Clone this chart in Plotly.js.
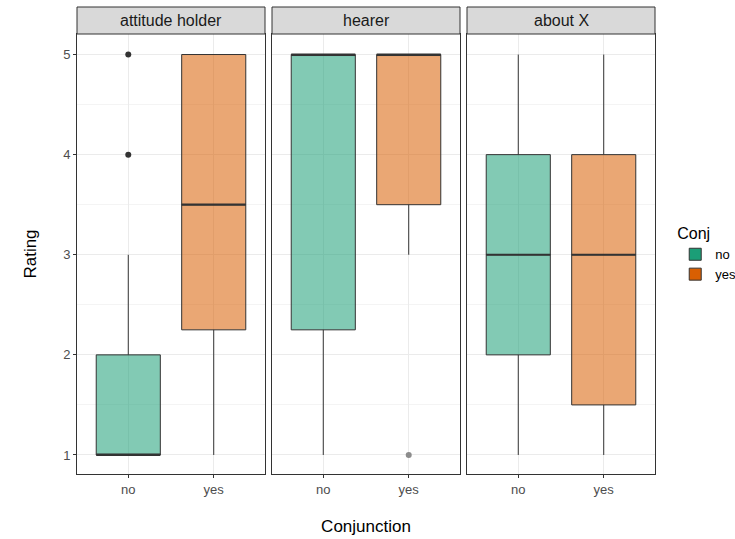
<!DOCTYPE html>
<html>
<head>
<meta charset="utf-8">
<script src="https://cdn.plot.ly/plotly-3.0.1.min.js"></script>
<style>html,body{margin:0;padding:0;background:#fff;}#plot{width:735px;height:539px;}</style>
</head>
<body>
<div id="plot"></div>
<script>
// Facets and categories
const facets = ["attitude holder", "hearer", "about X"];
const conjLevels = ["no", "yes"];
// Box statistics per facet, order [no, yes]
const lowerFence = [[1, 1], [1, 3], [1, 1]];
const q1Values   = [[1, 2.25], [2.25, 3.5], [2, 1.5]];
const medians    = [[1, 3.5], [5, 5], [3, 3]];
const q3Values   = [[2, 5], [5, 5], [4, 4]];
const upperFence = [[3, 5], [5, 5], [5, 5]];
// Outliers per facet, order [no, yes]
const outliers   = [[[4, 5], []], [[], [1]], [[], []]];
const outlierColors = [["#333333", "#333333"], ["#333333", "#8c8c8c"], ["#333333", "#333333"]];

const fills = ["rgba(27,158,119,0.55)", "rgba(217,95,2,0.55)"];
const keyFills = ["#1b9e77", "#d95f02"];

const traces = [];
facets.forEach((f, i) => {
  const xa = i === 0 ? "x" : "x" + (i + 1);
  const ya = i === 0 ? "y" : "y" + (i + 1);
  conjLevels.forEach((c, j) => {
    traces.push({
      type: "box", xaxis: xa, yaxis: ya,
      x: [c],
      lowerfence: [lowerFence[i][j]], q1: [q1Values[i][j]], median: [medians[i][j]],
      q3: [q3Values[i][j]], upperfence: [upperFence[i][j]],
      fillcolor: fills[j], line: {color: "#333333", width: 1},
      width: 0.75, whiskerwidth: 0, showlegend: false, hoverinfo: "skip"
    });
    // thicker median line, drawn as a degenerate box at the median value
    const m = medians[i][j];
    traces.push({
      type: "box", xaxis: xa, yaxis: ya,
      x: [c],
      lowerfence: [m], q1: [m], median: [m], q3: [m], upperfence: [m],
      fillcolor: "rgba(0,0,0,0)", line: {color: "#333333", width: 2.2},
      width: 0.75, whiskerwidth: 0, showlegend: false, hoverinfo: "skip"
    });
    if (outliers[i][j].length) {
      traces.push({
        type: "scatter", mode: "markers", xaxis: xa, yaxis: ya,
        x: outliers[i][j].map(() => c), y: outliers[i][j],
        marker: {color: outlierColors[i][j], size: 6}, showlegend: false, hoverinfo: "skip"
      });
    }
  });
});
// Legend key traces (drawn outside visible range)
conjLevels.forEach((c, j) => {
  traces.push({
    type: "box", xaxis: "x", yaxis: "y", name: c,
    x: [c], lowerfence: [-10], q1: [-10], median: [-10], q3: [-10], upperfence: [-10],
    fillcolor: keyFills[j], line: {color: "#333333", width: 1}, showlegend: true, hoverinfo: "skip"
  });
});

const W = 578;
const domains = [[0, 188 / W], [195 / W, 383 / W], [390 / W, 1]];
const tickFont = {family: "Liberation Sans, Arial, sans-serif", size: 13, color: "#4d4d4d"};
const layout = {
  width: 735, height: 539,
  margin: {l: 77, r: 80, t: 34, b: 65, autoexpand: false},
  paper_bgcolor: "#ffffff", plot_bgcolor: "#ffffff",
  font: {family: "Liberation Sans, Arial, sans-serif", color: "#000"},
  boxmode: "overlay",
  showlegend: true,
  legend: {
    x: 1.035, xanchor: "left", y: 0.5, yanchor: "middle",
    title: {text: "Conj", font: {size: 16, color: "#000"}},
    font: {size: 13, color: "#000"}, tracegroupgap: 2, itemwidth: 30
  },
  shapes: [], annotations: []
};
facets.forEach((f, i) => {
  const sfx = i === 0 ? "" : String(i + 1);
  layout["xaxis" + sfx] = {
    domain: domains[i], anchor: "y" + sfx, type: "category",
    categoryorder: "array", categoryarray: conjLevels, range: [-0.6, 1.6],
    showgrid: true, gridcolor: "#ebebeb", gridwidth: 1,
    showline: true, linecolor: "#333333", linewidth: 1, mirror: true,
    ticks: "outside", ticklen: 3, tickcolor: "#333333", tickfont: tickFont,
    zeroline: false, fixedrange: true,
    title: i === 1 ? {text: "Conjunction", font: {size: 17, color: "#000"}, standoff: 24} : undefined
  };
  layout["yaxis" + sfx] = {
    domain: [0, 1], anchor: "x" + sfx, range: [0.81, 5.205],
    tickvals: [1, 2, 3, 4, 5], showticklabels: i === 0,
    showgrid: true, gridcolor: "#ebebeb", gridwidth: 1,
    minor: {tickvals: [1.5, 2.5, 3.5, 4.5], showgrid: true, gridcolor: "#f4f4f4", gridwidth: 1, ticks: ""},
    showline: true, linecolor: "#333333", linewidth: 1, mirror: true,
    ticks: i === 0 ? "outside" : "", ticklen: 3, tickcolor: "#333333", tickfont: tickFont,
    zeroline: false, fixedrange: true,
    title: i === 0 ? {text: "Rating", font: {size: 17, color: "#000"}, standoff: 22} : undefined
  };
  layout.shapes.push({
    type: "rect", xref: "paper", yref: "paper",
    x0: domains[i][0], x1: domains[i][1], y0: 1, y1: 1 + 27 / 440,
    fillcolor: "#d9d9d9", line: {color: "#333333", width: 1}
  });
  layout.annotations.push({
    xref: "paper", yref: "paper", x: (domains[i][0] + domains[i][1]) / 2, y: 1 + 13.5 / 440,
    text: f, showarrow: false, xanchor: "center", yanchor: "middle",
    font: {size: 16, color: "#1a1a1a"}
  });
});
Plotly.newPlot("plot", traces, layout, {displayModeBar: false, staticPlot: true});
</script>
</body>
</html>
